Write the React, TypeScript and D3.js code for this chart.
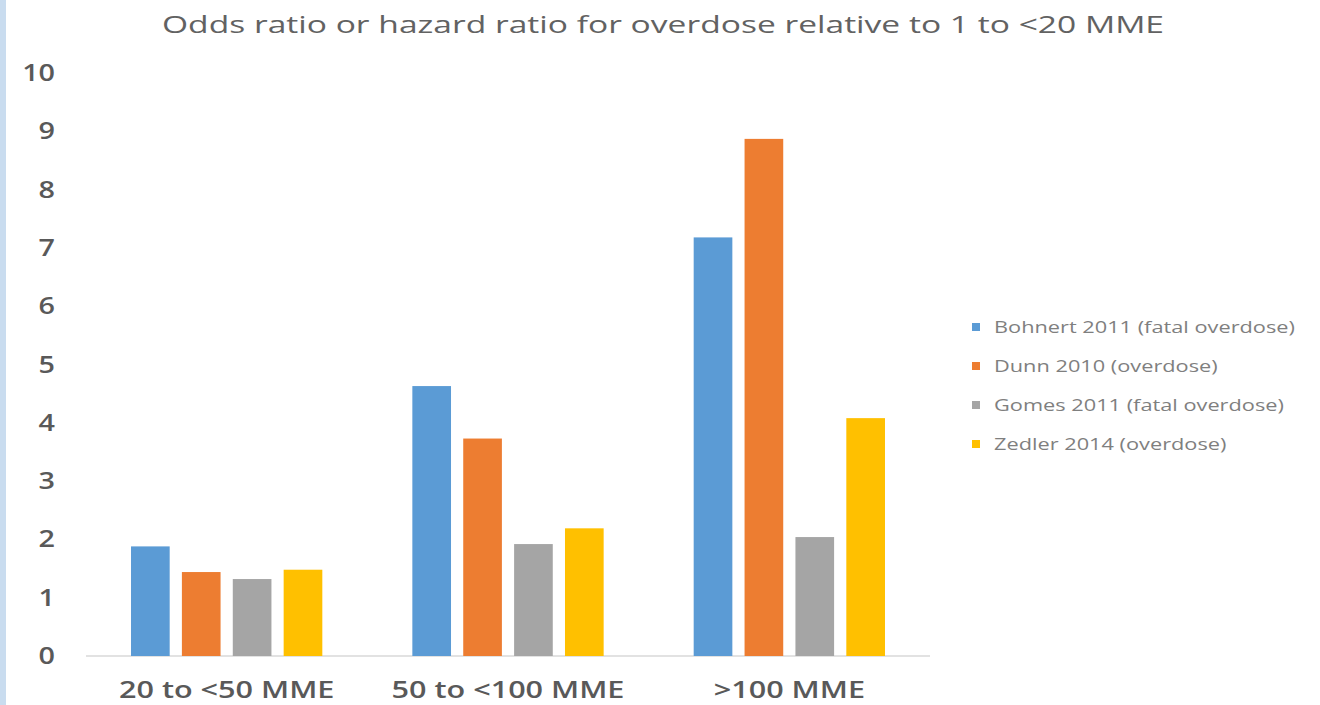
import React from "react";
import * as d3 from "d3";

const categories = ["20 to <50 MME", "50 to <100 MME", ">100 MME"];
const seriesNames = [
  "Bohnert 2011 (fatal overdose)",
  "Dunn 2010 (overdose)",
  "Gomes 2011 (fatal overdose)",
  "Zedler 2014 (overdose)",
];
const bohnert = [1.88, 4.63, 7.18];
const dunn = [1.44, 3.73, 8.87];
const gomes = [1.32, 1.92, 2.04];
const zedler = [1.48, 2.19, 4.08];
const seriesValues = [bohnert, dunn, gomes, zedler];
const seriesColors = ["#5B9BD5", "#ED7D31", "#A5A5A5", "#FFC000"];
const yTicks = [0, 1, 2, 3, 4, 5, 6, 7, 8, 9, 10];
const title = "Odds ratio or hazard ratio for overdose relative to 1 to <20 MME";

function SText(props: {
  x: number;
  y: number;
  sx: number;
  anchor: string;
  size: number;
  weight?: number;
  fill: string;
  dy?: string;
  children: React.ReactNode;
}) {
  return (
    <g transform={`translate(${props.x},${props.y}) scale(${props.sx},1)`}>
      <text
        x={0}
        y={0}
        dy={props.dy}
        textAnchor={props.anchor}
        fontSize={props.size}
        fontWeight={props.weight ?? 400}
        fill={props.fill}
      >
        {props.children}
      </text>
    </g>
  );
}

export default function App() {
  const W = 1320;
  const H = 705;
  const plotLeft = 86;
  const plotRight = 930;
  const plotTop = 73;
  const plotBottom = 656;

  const y = d3.scaleLinear().domain([0, 10]).range([plotBottom, plotTop]);
  const x0 = d3
    .scaleBand<string>()
    .domain(categories)
    .range([plotLeft, plotRight])
    .paddingInner(0.32)
    .paddingOuter(0.16);
  const x1 = d3
    .scaleBand<string>()
    .domain(seriesNames)
    .range([0, x0.bandwidth()])
    .paddingInner(0.24);

  const textColor = "#595959";
  const font = "'Open Sans', 'Liberation Sans', sans-serif";

  return (
    <svg
      width={W}
      height={H}
      style={{ position: "absolute", left: 0, top: 0, background: "#fff" }}
      fontFamily={font}
    >
      <rect x={0} y={0} width={W} height={H} fill="#ffffff" />
      <rect x={0} y={0} width={6} height={H} fill="#C9DCEF" />
      <text
        x={663}
        y={33}
        textAnchor="middle"
        fontSize={24}
        fill="#626262"
        textLength={1002}
        lengthAdjust="spacingAndGlyphs"
      >
        {title}
      </text>
      {yTicks.map((t) => (
        <SText
          key={t}
          x={55}
          y={y(t)}
          dy="0.35em"
          anchor="end"
          size={23}
          weight={600}
          sx={1.25}
          fill={textColor}
        >
          {t}
        </SText>
      ))}
      <line
        x1={plotLeft}
        x2={plotRight}
        y1={y(0)}
        y2={y(0)}
        stroke="#D9D9D9"
        strokeWidth={1.5}
      />
      {categories.map((c, ci) => (
        <g key={c} transform={`translate(${x0(c)},0)`}>
          {seriesNames.map((s, si) => {
            const v = seriesValues[si][ci];
            return (
              <rect
                key={s}
                x={x1(s)}
                y={y(v)}
                width={x1.bandwidth()}
                height={y(0) - y(v)}
                fill={seriesColors[si]}
              />
            );
          })}
          <SText
            x={x0.bandwidth() / 2}
            y={698}
            anchor="middle"
            size={23}
            weight={600}
            sx={1.33}
            fill={textColor}
          >
            {c}
          </SText>
        </g>
      ))}
      {seriesNames.map((s, si) => {
        const ly = 327 + si * 39;
        return (
          <g key={s} transform={`translate(972,${ly})`}>
            <rect x={0} y={-4} width={8} height={8} fill={seriesColors[si]} />
            <SText x={22} y={0} dy="0.35em" anchor="start" size={17} sx={1.28} fill="#7F7F7F">
              {s}
            </SText>
          </g>
        );
      })}
    </svg>
  );
}
